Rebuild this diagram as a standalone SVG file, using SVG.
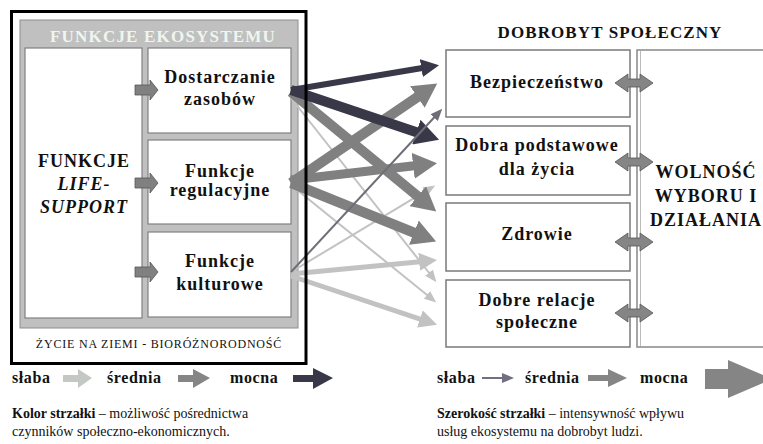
<svg xmlns="http://www.w3.org/2000/svg" width="763" height="444" viewBox="0 0 763 444">
<style>
.t{font-family:"Liberation Serif","Times New Roman",serif;fill:#111}
.b{font-weight:bold;font-size:18px;letter-spacing:1px}
.c{text-anchor:middle}
.box{fill:#fff;stroke:#7a7a7a;stroke-width:1.5}
.ib{fill:#fff;stroke:#808080;stroke-width:1.2}
.sa{fill:#808080;stroke:#555;stroke-width:0.8}
.lg{font-weight:bold;font-size:16px;letter-spacing:0.6px}
.cap{font-size:14px}
.ar{fill:none;stroke-linecap:butt}
</style>
<defs>
<marker id="mDkM" markerUnits="userSpaceOnUse" markerWidth="18" markerHeight="18" viewBox="0 0 18 18" refX="1" refY="9" orient="auto"><path d="M0,0 L18,9 L0,18 z" fill="#383848"/></marker>
<marker id="mDkL" markerUnits="userSpaceOnUse" markerWidth="24" markerHeight="26" viewBox="0 0 24 26" refX="1" refY="13" orient="auto"><path d="M0,0 L24,13 L0,26 z" fill="#383848"/></marker>
<marker id="mMdL" markerUnits="userSpaceOnUse" markerWidth="24" markerHeight="26" viewBox="0 0 24 26" refX="1" refY="13" orient="auto"><path d="M0,0 L24,13 L0,26 z" fill="#808080"/></marker>
<marker id="mGT" markerUnits="userSpaceOnUse" markerWidth="12" markerHeight="10" viewBox="0 0 12 10" refX="1" refY="5" orient="auto"><path d="M0,0 L12,5 L0,10 z" fill="#6e6e78"/></marker>
<marker id="mLT" markerUnits="userSpaceOnUse" markerWidth="12" markerHeight="10" viewBox="0 0 12 10" refX="1" refY="5" orient="auto"><path d="M0,0 L12,5 L0,10 z" fill="#c2c2c2"/></marker>
<marker id="mLM" markerUnits="userSpaceOnUse" markerWidth="18" markerHeight="18" viewBox="0 0 18 18" refX="1" refY="9" orient="auto"><path d="M0,0 L18,9 L0,18 z" fill="#c2c2c2"/></marker>
<path id="dbl" d="M615,0 L628,-9 L628,-4 L640,-4 L640,-9 L653,0 L640,9 L640,4 L628,4 L628,9 z" fill="#858585" stroke="#555" stroke-width="0.8"/>
<path id="sm" d="M135,-5 L150,-5 L150,-10 L158,0 L150,10 L150,5 L135,5 z"/>
</defs>

<!-- Ecosystem functions panel -->
<g id="ecosystem-panel">
<rect x="20" y="20" width="278" height="308" fill="#c0c0c0" stroke="#8e8e8e" stroke-width="1"/>
<text class="t" x="163" y="42" text-anchor="middle" font-weight="bold" font-size="17" letter-spacing="1.2" style="fill:#eef6ee">FUNKCJE EKOSYSTEMU</text>
</g>

<g id="life-support">
<rect class="ib" x="25" y="48" width="117" height="270"/>
<text class="t b c" x="84" y="167" letter-spacing="1.3">FUNKCJE</text>
<text class="t b c" x="84" y="190" font-style="italic">LIFE-</text>
<text class="t b c" x="84" y="213" font-style="italic">SUPPORT</text>
</g>

<g id="dostarczanie">
<rect class="ib" x="148" y="48" width="143" height="85"/>
<text class="t b c" x="220" y="83">Dostarczanie</text>
<text class="t b c" x="220" y="105">zasobów</text>
</g>

<g id="regulacyjne">
<rect class="ib" x="148" y="140" width="143" height="84"/>
<text class="t b c" x="220" y="177">Funkcje</text>
<text class="t b c" x="220" y="196">regulacyjne</text>
</g>

<g id="kulturowe">
<rect class="ib" x="148" y="232" width="143" height="85"/>
<text class="t b c" x="220" y="267">Funkcje</text>
<text class="t b c" x="220" y="290">kulturowe</text>
</g>

<g id="small-arrows">
<use href="#sm" class="sa" y="90"/>
<use href="#sm" class="sa" y="183"/>
<use href="#sm" class="sa" y="272"/>
</g>

<g id="bioroznorodnosc">
<text class="t c" x="159" y="348" font-size="12" letter-spacing="0.8">ŻYCIE  NA  ZIEMI - BIORÓŻNORODNOŚĆ</text>
</g>

<!-- Connectors -->
<g id="connectors" class="ar">
<!-- light -->
<line x1="291" y1="98" x2="429.6" y2="273.5" stroke="#c2c2c2" stroke-width="2" marker-end="url(#mLT)"/>
<line x1="291" y1="185" x2="427.7" y2="295.5" stroke="#c2c2c2" stroke-width="2" marker-end="url(#mLT)"/>
<line x1="291" y1="272" x2="425.7" y2="191.2" stroke="#c2c2c2" stroke-width="2" marker-end="url(#mLT)"/>
<line x1="291" y1="274" x2="420.1" y2="261.7" stroke="#c2c2c2" stroke-width="5" marker-end="url(#mLM)"/>
<line x1="291" y1="276" x2="420.9" y2="319.3" stroke="#c2c2c2" stroke-width="5" marker-end="url(#mLM)"/>
<!-- medium grey -->
<line x1="291" y1="92" x2="418.5" y2="196.8" stroke="#808080" stroke-width="10" marker-end="url(#mMdL)"/>
<line x1="291" y1="183" x2="418.2" y2="96.5" stroke="#808080" stroke-width="10" marker-end="url(#mMdL)"/>
<line x1="291" y1="180" x2="414.2" y2="165.8" stroke="#808080" stroke-width="9" marker-end="url(#mMdL)"/>
<line x1="291" y1="183" x2="414.8" y2="233" stroke="#808080" stroke-width="10" marker-end="url(#mMdL)"/>
<!-- dark -->
<line x1="291" y1="90" x2="422.3" y2="68" stroke="#383848" stroke-width="6" marker-end="url(#mDkM)"/>
<line x1="291" y1="90" x2="417.3" y2="132.4" stroke="#383848" stroke-width="10" marker-end="url(#mDkL)"/>
<!-- thin dark grey -->
<line x1="291" y1="272" x2="434.8" y2="116.8" stroke="#6e6e78" stroke-width="2" marker-end="url(#mGT)"/>
</g>

<g id="outer-frame">
<rect x="11.5" y="11.5" width="294.5" height="352" fill="none" stroke="#000" stroke-width="3"/>
</g>

<!-- Well-being side -->
<g id="dobrobyt-title">
<text class="t c" x="610" y="38" font-weight="bold" font-size="17" letter-spacing="1.1">DOBROBYT SPOŁECZNY</text>
</g>

<g id="wolnosc">
<rect x="637" y="50" width="140" height="297" fill="#fff" stroke="#888" stroke-width="1.5"/>
<line x1="640.5" y1="51" x2="640.5" y2="346" stroke="#bbb" stroke-width="1"/>
<text class="t b c" x="706" y="178" letter-spacing="1.5">WOLNOŚĆ</text>
<text class="t b c" x="706" y="202" letter-spacing="1.5">WYBORU I</text>
<text class="t b c" x="706" y="226" letter-spacing="1.2">DZIAŁANIA</text>
</g>

<g id="bezpieczenstwo">
<rect class="box" x="446" y="50" width="184" height="67"/>
<text class="t b c" x="537" y="88">Bezpieczeństwo</text>
</g>

<g id="dobra-podstawowe">
<rect class="box" x="446" y="126" width="184" height="69"/>
<text class="t b c" x="537" y="151">Dobra podstawowe</text>
<text class="t b c" x="537" y="175">dla życia</text>
</g>

<g id="zdrowie">
<rect class="box" x="446" y="203" width="184" height="68"/>
<text class="t b c" x="537" y="240">Zdrowie</text>
</g>

<g id="dobre-relacje">
<rect class="box" x="446" y="280" width="184" height="67"/>
<text class="t b c" x="537" y="306">Dobre relacje</text>
<text class="t b c" x="537" y="328">społeczne</text>
</g>

<g id="double-arrows">
<use href="#dbl" y="83"/>
<use href="#dbl" y="162"/>
<use href="#dbl" y="242"/>
<use href="#dbl" y="313"/>
</g>

<!-- Legend: colour -->
<g id="legend-colour">
<text class="t lg" x="12" y="383">słaba</text>
<path d="M63,375 L78,375 L78,369 L92,378 L78,388 L78,382 L63,382 z" fill="#c4c8c4"/>
<text class="t lg" x="107" y="383">średnia</text>
<path d="M178,375 L193,375 L193,369 L210,378 L193,388 L193,382 L178,382 z" fill="#858585"/>
<text class="t lg" x="230" y="383">mocna</text>
<path d="M293,375 L313,375 L313,368 L333,378 L313,389 L313,382 L293,382 z" fill="#383848"/>
<text class="t cap" x="12" y="418"><tspan font-weight="bold">Kolor strzałki</tspan> – możliwość pośrednictwa</text>
<text class="t cap" x="12" y="436">czynników społeczno-ekonomicznych.</text>
</g>

<!-- Legend: width -->
<g id="legend-width">
<text class="t lg" x="437" y="383">słaba</text>
<line x1="482" y1="378" x2="503" y2="378" stroke="#707080" stroke-width="2"/>
<path d="M502,373 L514,378 L502,383 z" fill="#707080"/>
<text class="t lg" x="525" y="383">średnia</text>
<path d="M588,375 L608,375 L608,369 L627,378 L608,387 L608,381 L588,381 z" fill="#858585"/>
<text class="t lg" x="640" y="383">mocna</text>
<path d="M705,369 L728,369 L728,360 L772,379 L728,398 L728,389 L705,389 z" fill="#858585"/>
<text class="t cap" x="437" y="418"><tspan font-weight="bold">Szerokość strzałki</tspan> – intensywność wpływu</text>
<text class="t cap" x="437" y="436">usług ekosystemu na dobrobyt ludzi.</text>
</g>
</svg>
